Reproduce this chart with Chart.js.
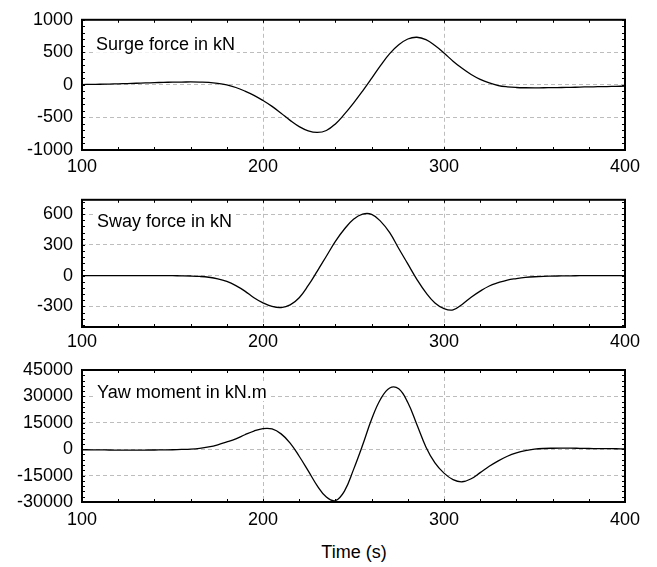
<!DOCTYPE html>
<html>
<head>
<meta charset="utf-8">
<script src="https://cdn.jsdelivr.net/npm/chart.js@4"></script>
<style>
  body { margin: 0; background: #fff; width: 657px; height: 567px; position: relative; overflow: hidden; font-family: 'Liberation Sans', Arial, sans-serif; }
  .panel { position: absolute; left: 0; width: 657px; }
  #xlabel { position: absolute; left: 254px; top: 542px; width: 200px; text-align: center; font-size: 18px; line-height: 20px; color: #000; }
</style>
</head>
<body>
<div class="panel" style="top:0px;height:180px"><canvas id="surgeChart" width="657" height="180"></canvas></div>
<div class="panel" style="top:180px;height:170px"><canvas id="swayChart" width="657" height="170"></canvas></div>
<div class="panel" style="top:350px;height:180px"><canvas id="yawChart" width="657" height="180"></canvas></div>
<div id="xlabel">Time (s)</div>
<script>
// time axis, one sample every 5 s
const times = [100,105,110,115,120,125,130,135,140,145,150,155,160,165,170,175,180,185,190,195,200,
  205,210,215,220,225,230,235,240,245,250,255,260,265,270,275,280,285,290,295,300,
  305,310,315,320,325,330,335,340,345,350,355,360,365,370,375,380,385,390,395,400];

const surge = [5,8,10,13,17,21,25,30,35,39,42,44,45,44,40,25,0,-40,-95,-160,-240,
  -330,-435,-545,-640,-705,-730,-700,-600,-450,-280,-95,100,300,480,615,705,732,695,605,490,
  365,255,160,85,30,-10,-30,-40,-44,-45,-44,-42,-40,-38,-34,-30,-28,-25,-22,-20];

const sway = [0,0,0,0,0,0,0,0,0,0,0,-1,-3,-7,-15,-30,-56,-97,-150,-215,-265,
  -300,-311,-285,-215,-95,45,190,335,455,550,600,598,530,420,265,115,-35,-165,-265,-320,
  -333,-280,-210,-150,-100,-68,-42,-28,-17,-10,-6,-4,-2,-1,0,0,0,0,0,0];

const yaw = [-300,-350,-400,-450,-500,-500,-500,-480,-450,-400,-300,-150,50,500,1300,2500,4100,5900,8200,10300,11700,
  11500,8700,3500,-4000,-12300,-20800,-27200,-29200,-23800,-11600,2200,17000,28500,34800,34300,26500,14000,1300,-7800,-13600,
  -17300,-18500,-16800,-13300,-9700,-6600,-4000,-2100,-800,0,400,550,600,600,500,400,350,300,250,200];

const xTicks = [100, 200, 300, 400];
const surgeTicks = [-1000, -500, 0, 500, 1000];
const swayTicks = [-300, 0, 300, 600];
const yawTicks = [-30000, -15000, 0, 15000, 30000, 45000];

Chart.defaults.font.family = "'Liberation Sans', Arial, sans-serif";
Chart.defaults.font.size = 18;
Chart.defaults.color = '#000';

// frame, inner minor ticks and the panel caption
const framePlugin = {
  id: 'frame',
  afterDraw(chart, args, opts) {
    const {ctx, chartArea: a, scales: {x, y}} = chart;
    ctx.save();
    ctx.strokeStyle = '#000';
    ctx.lineWidth = 1;
    ctx.beginPath();
    for (let t = 100; t <= 400; t += 20) {
      const px = Math.round(x.getPixelForValue(t)) + 0.5;
      ctx.moveTo(px, a.top); ctx.lineTo(px, a.top + 3);
      ctx.moveTo(px, a.bottom); ctx.lineTo(px, a.bottom - 3);
    }
    const start = Math.ceil(y.min / opts.minorY) * opts.minorY;
    for (let v = start; v <= y.max; v += opts.minorY) {
      const py = Math.round(y.getPixelForValue(v)) + 0.5;
      ctx.moveTo(a.left, py); ctx.lineTo(a.left + 3, py);
      ctx.moveTo(a.right, py); ctx.lineTo(a.right - 3, py);
    }
    ctx.stroke();
    ctx.lineWidth = 2;
    ctx.strokeRect(a.left, a.top, a.right - a.left, a.bottom - a.top);

    ctx.font = "18px 'Liberation Sans', Arial, sans-serif";
    ctx.textBaseline = 'alphabetic';
    const w = ctx.measureText(opts.title).width;
    const tx = a.left + opts.titleX;
    const ty = a.top + opts.titleY;
    ctx.fillStyle = '#fff';
    ctx.fillRect(tx - 2, ty - 15, w + 4, 18);
    ctx.fillStyle = '#000';
    ctx.fillText(opts.title, tx, ty);
    ctx.restore();
  }
};

function makeChart(id, values, cfg) {
  const ctx = document.getElementById(id).getContext('2d');
  return new Chart(ctx, {
    type: 'line',
    data: {
      datasets: [{
        data: times.map((t, i) => ({x: t, y: values[i]})),
        borderColor: '#000',
        borderWidth: 1.3,
        pointRadius: 0,
        tension: 0.4,
        fill: false
      }]
    },
    plugins: [framePlugin],
    options: {
      responsive: false,
      animation: false,
      layout: { padding: { top: cfg.padTop, right: 32, left: 0, bottom: 0 } },
      plugins: {
        legend: { display: false },
        tooltip: { enabled: false },
        frame: { title: cfg.title, titleX: cfg.titleX, titleY: cfg.titleY, minorY: cfg.minorY }
      },
      scales: {
        x: {
          type: 'linear',
          min: 100,
          max: 400,
          afterBuildTicks: s => { s.ticks = xTicks.map(v => ({value: v})); },
          afterFit: s => { s.height = cfg.xHeight; },
          grid: { color: '#bdbdbd', lineWidth: 1, drawTicks: false },
          border: { display: false, dash: [4, 3] },
          ticks: { padding: cfg.xPad, maxRotation: 0, autoSkip: false, callback: v => String(v) }
        },
        y: {
          min: cfg.yMin,
          max: cfg.yMax,
          afterBuildTicks: s => { s.ticks = cfg.yTicks.map(v => ({value: v})); },
          afterFit: s => { s.width = 82; },
          grid: { color: '#bdbdbd', lineWidth: 1, drawTicks: false },
          border: { display: false, dash: [4, 3] },
          ticks: { padding: 9, callback: v => String(v) }
        }
      }
    }
  });
}

makeChart('surgeChart', surge, {
  yMin: -1000, yMax: 1000, yTicks: surgeTicks, minorY: 100,
  padTop: 18, xHeight: 30, xPad: 6,
  title: 'Surge force in kN', titleX: 14, titleY: 30
});
makeChart('swayChart', sway, {
  yMin: -500, yMax: 740, yTicks: swayTicks, minorY: 60,
  padTop: 14, xHeight: 23, xPad: 4,
  title: 'Sway force in kN', titleX: 15, titleY: 27
});
makeChart('yawChart', yaw, {
  yMin: -30000, yMax: 45000, yTicks: yawTicks, minorY: 3000,
  padTop: 20, xHeight: 28, xPad: 7,
  title: 'Yaw moment in kN.m', titleX: 15, titleY: 28
});
</script>
</body>
</html>
